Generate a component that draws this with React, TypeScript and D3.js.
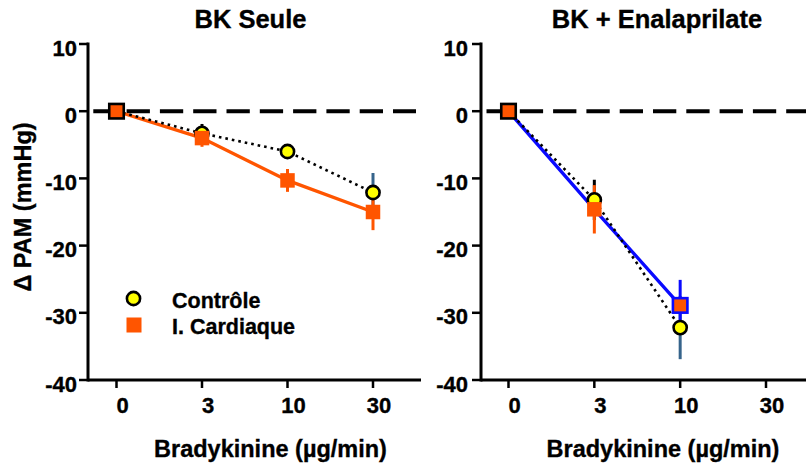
import React from "react";
import * as d3 from "d3";

const doses = ["0", "3", "10", "30"];
const yTicks = [10, 0, -10, -20, -30, -40];

const controlSeule = [0, -3.3, -6.0, -12.1];
const controlSeuleErr = [0, 1.4, 0.8, 2.9];
const cardiaqueSeule = [0, -4.0, -10.3, -15.0];
const cardiaqueSeuleErr = [0, 1.3, 1.7, 2.7];

const controlEnal = [0, -13.2, -32.2];
const controlEnalErr = [0, 3.0, 4.7];
const cardiaqueEnal = [0, -14.6, -28.9];
const cardiaqueEnalErr = [0, 3.6, 3.8];

const titles = ["BK Seule", "BK + Enalaprilate"];
const xTitle = "Bradykinine (µg/min)";
const yTitle = "Δ PAM (mmHg)";
const legendLabels = ["Contrôle", "I. Cardiaque"];

const FONT = "'Liberation Sans', Arial, Helvetica, sans-serif";
const ORANGE = "#ff5500";
const BLUE = "#0a0aff";
const STEEL = "#36648b";
const YELLOW = "#ffff00";
const TXT = { fontFamily: FONT, fontWeight: "bold" as const, stroke: "#000", strokeWidth: 0.35 };

const y = d3.scaleLinear().domain([-40, 10]).range([380, 44]);

type PanelProps = {
  axisX: number;
  axisEnd: number;
  xRange: [number, number];
  dashStart: number;
  dashEnd: number;
  title: string;
  titleX: number;
  xTitleX: number;
  labelEnd: number;
  control: number[];
  controlErr: number[];
  card: number[];
  cardErr: number[];
  cardLine: string;
  cardErrColor: (i: number) => string;
  cardStroke: (i: number) => string | null;
};

function Panel(p: PanelProps) {
  const x = d3.scalePoint<string>().domain(doses).range(p.xRange);
  const ctrlPts = p.control.map((v, i) => ({ x: x(doses[i])!, y: y(v), e: p.controlErr[i], v }));
  const cardPts = p.card.map((v, i) => ({ x: x(doses[i])!, y: y(v), e: p.cardErr[i], v }));
  const line = d3.line<{ x: number; y: number }>().x((d) => d.x).y((d) => d.y);
  const sq = 14.5;
  return (
    <g>
      <text x={p.titleX} y={28} textAnchor="middle" {...TXT} fontSize={25.5}>
        {p.title}
      </text>
      <line x1={p.dashStart} x2={p.dashEnd} y1={y(0)} y2={y(0)} stroke="#000" strokeWidth={4} strokeDasharray="23.3,10" />
      <line x1={p.axisX} x2={p.axisX} y1={y(10) - 1.5} y2={y(-40) + 1.5} stroke="#000" strokeWidth={3} />
      {yTicks.map((t) => (
        <g key={t}>
          <line x1={p.axisX - 9} x2={p.axisX} y1={y(t)} y2={y(t)} stroke="#000" strokeWidth={2.5} />
          <text x={p.labelEnd} y={y(t) + 11.5} textAnchor="end" {...TXT} fontSize={22}>
            {t}
          </text>
        </g>
      ))}
      <line x1={p.axisX} x2={p.axisEnd} y1={y(-40)} y2={y(-40)} stroke="#000" strokeWidth={3} />
      {doses.map((d) => (
        <g key={d}>
          <line x1={x(d)} x2={x(d)} y1={y(-40)} y2={y(-40) + 8} stroke="#000" strokeWidth={2.5} />
          <text x={x(d)! + 6} y={413} textAnchor="middle" {...TXT} fontSize={22}>
            {d}
          </text>
        </g>
      ))}
      <text x={p.xTitleX} y={457} textAnchor="middle" {...TXT} fontSize={23.5}>
        {xTitle}
      </text>
      <path d={line(cardPts) || ""} fill="none" stroke={p.cardLine} strokeWidth={3.3} />
      <path d={line(ctrlPts) || ""} fill="none" stroke="#000" strokeWidth={2.6} strokeDasharray="2.6,4" />
      {ctrlPts.map((d, i) =>
        d.e > 0 ? (
          <line key={"ce" + i} x1={d.x} x2={d.x} y1={y(d.v + d.e)} y2={y(d.v - d.e)}
            stroke={i === ctrlPts.length - 1 ? STEEL : "#000"} strokeWidth={3} />
        ) : null
      )}
      {cardPts.map((d, i) =>
        d.e > 0 ? (
          <line key={"ke" + i} x1={d.x} x2={d.x} y1={y(d.v + d.e)} y2={y(d.v - d.e)}
            stroke={p.cardErrColor(i)} strokeWidth={3} />
        ) : null
      )}
      {ctrlPts.map((d, i) => (
        <circle key={"cm" + i} cx={d.x} cy={d.y} r={6.6} fill={YELLOW} stroke="#000" strokeWidth={2.6} />
      ))}
      {cardPts.map((d, i) => {
        const s = p.cardStroke(i);
        return (
          <rect key={"km" + i} x={d.x - sq / 2} y={d.y - sq / 2} width={sq} height={sq}
            fill={ORANGE} stroke={s || "none"} strokeWidth={s ? 2.6 : 0} />
        );
      })}
    </g>
  );
}

export default function App() {
  return (
    <svg width={806} height={470} style={{ position: "absolute", left: 0, top: 0, background: "#fff" }}>
      <rect width={806} height={470} fill="#fff" />
      <Panel
        axisX={88}
        axisEnd={421}
        xRange={[116.5, 373]}
        dashStart={93.3}
        dashEnd={416}
        title={titles[0]}
        titleX={250.5}
        xTitleX={270.5}
        labelEnd={77}
        control={controlSeule}
        controlErr={controlSeuleErr}
        card={cardiaqueSeule}
        cardErr={cardiaqueSeuleErr}
        cardLine={ORANGE}
        cardErrColor={() => ORANGE}
        cardStroke={(i) => (i === 0 ? "#000" : null)}
      />
      <Panel
        axisX={481}
        axisEnd={806}
        xRange={[508.5, 766]}
        dashStart={486.5}
        dashEnd={806}
        title={titles[1]}
        titleX={657}
        xTitleX={663}
        labelEnd={468}
        control={controlEnal}
        controlErr={controlEnalErr}
        card={cardiaqueEnal}
        cardErr={cardiaqueEnalErr}
        cardLine={BLUE}
        cardErrColor={(i) => (i === 2 ? BLUE : ORANGE)}
        cardStroke={(i) => (i === 0 ? "#000" : i === 2 ? BLUE : null)}
      />
      <text transform="translate(31,207) rotate(-90)" textAnchor="middle" {...TXT} fontSize={23.5}>
        {yTitle}
      </text>
      <circle cx={133.5} cy={298.5} r={6.6} fill={YELLOW} stroke="#000" strokeWidth={2.6} />
      <rect x={134 - 7.5} y={325 - 7.5} width={15} height={15} fill={ORANGE} />
      <text x={172} y={308} {...TXT} fontSize={21.5}>{legendLabels[0]}</text>
      <text x={172} y={333.5} {...TXT} fontSize={21.5}>{legendLabels[1]}</text>
    </svg>
  );
}
